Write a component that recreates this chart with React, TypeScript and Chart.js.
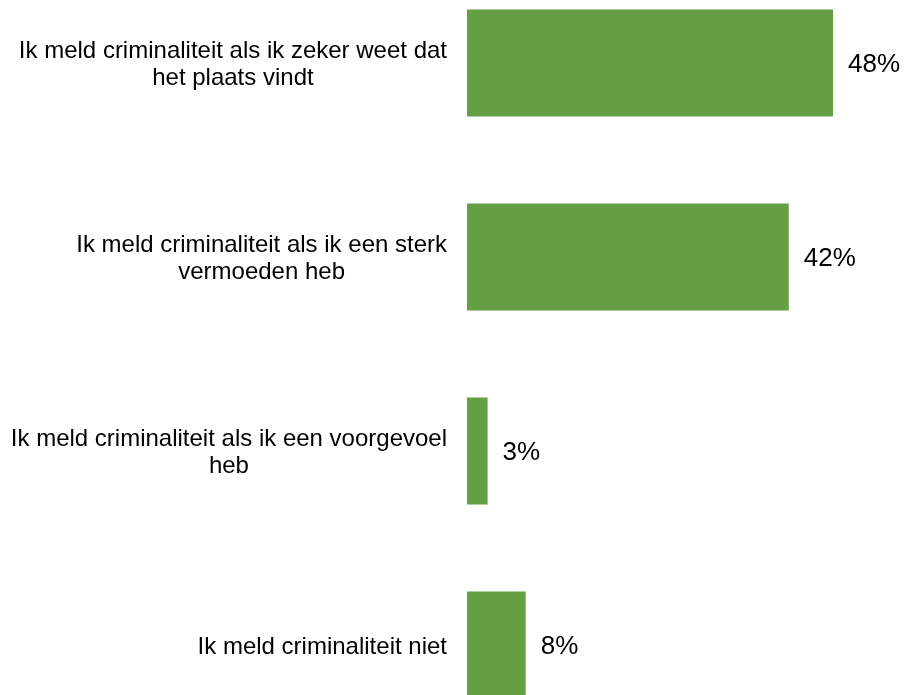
import React, { useEffect, useRef } from "react";
import { Chart, registerables } from "chart.js";

Chart.register(...registerables);

// Category labels (each entry = wrapped lines of one label)
const categories: string[][] = [
  ["Ik meld criminaliteit als ik zeker weet dat", "het plaats vindt"],
  ["Ik meld criminaliteit als ik een sterk", "vermoeden heb"],
  ["Ik meld criminaliteit als ik een voorgevoel", "heb"],
  ["Ik meld criminaliteit niet"],
];

// Percentages
const values: number[] = [48, 42.2, 2.7, 7.7];

// Shown value labels
const valueLabels: string[] = ["48%", "42%", "3%", "8%"];

const BAR_COLOR = "#64A043";
const TEXT_COLOR = "#000000";
const FONT_FAMILY = '"Liberation Sans", Arial, sans-serif';
const CAT_SIZE = 24;
const VAL_SIZE = 26;
const LINE_H = 27;

const labelPlugin = {
  id: "excelStyleLabels",
  afterDatasetsDraw(chart: any) {
    const ctx: CanvasRenderingContext2D = chart.ctx;
    const yScale = chart.scales.y;
    const meta = chart.getDatasetMeta(0);
    ctx.save();
    ctx.fillStyle = TEXT_COLOR;
    ctx.textBaseline = "alphabetic";

    // Category labels: block right-aligned to the axis, lines centred in the block
    ctx.font = `${CAT_SIZE}px ${FONT_FAMILY}`;
    ctx.textAlign = "center";
    const right = chart.chartArea.left - 20;
    categories.forEach((lines, i) => {
      const cy = yScale.getPixelForValue(i);
      const block = Math.max(...lines.map((l) => ctx.measureText(l).width));
      const cx = right - block / 2;
      lines.forEach((line, j) => {
        const y = cy + (j - (lines.length - 1) / 2) * LINE_H + CAT_SIZE * 0.358;
        ctx.fillText(line, cx, y);
      });
    });

    // Value labels right of each bar
    ctx.font = `${VAL_SIZE}px ${FONT_FAMILY}`;
    ctx.textAlign = "left";
    meta.data.forEach((bar: any, i: number) => {
      ctx.fillText(valueLabels[i], bar.x + 15, bar.y + VAL_SIZE * 0.358);
    });
    ctx.restore();
  },
};

export default function App() {
  const canvasRef = useRef<HTMLCanvasElement | null>(null);

  useEffect(() => {
    if (!canvasRef.current) return;
    const chart = new Chart(canvasRef.current, {
      type: "bar",
      data: {
        labels: categories,
        datasets: [
          {
            data: values,
            backgroundColor: BAR_COLOR,
            borderWidth: 0,
            categoryPercentage: 1,
            barPercentage: 107 / 194,
          },
        ],
      },
      options: {
        indexAxis: "y",
        responsive: false,
        animation: false,
        layout: { padding: { left: 467, right: 56.75, top: 0, bottom: 0 } },
        scales: {
          x: { display: false, min: 0, max: 50 },
          y: { display: false },
        },
        plugins: {
          legend: { display: false },
          tooltip: { enabled: false },
        },
      },
      plugins: [labelPlugin],
    } as any);
    return () => chart.destroy();
  }, []);

  return (
    <div
      style={{
        position: "absolute",
        left: 0,
        top: 0,
        width: 905,
        height: 695,
        overflow: "hidden",
        background: "#ffffff",
      }}
    >
      <canvas
        ref={canvasRef}
        width={905}
        height={776}
        style={{ position: "absolute", left: 0, top: -34 }}
      />
    </div>
  );
}
